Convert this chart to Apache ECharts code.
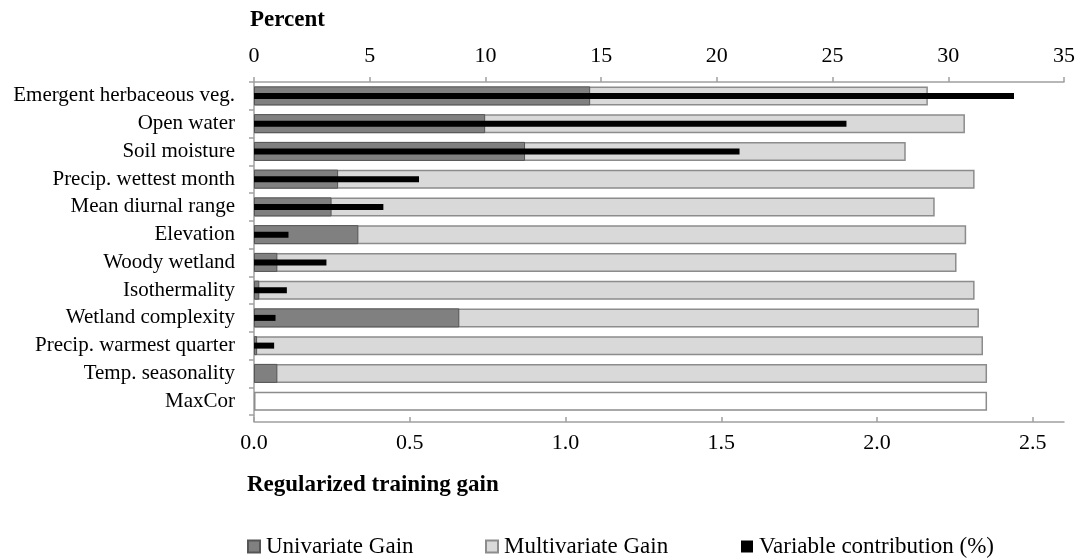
<!DOCTYPE html>
<html>
<head>
<meta charset="utf-8">
<script src="https://cdn.jsdelivr.net/npm/echarts@6/dist/echarts.min.js"></script>
<style>
  html, body { margin: 0; padding: 0; background: #fff; }
  #chart { width: 1080px; height: 558px; }
</style>
</head>
<body>
<div id="chart"></div>
<script>
const categories = [
  "Emergent herbaceous veg.", "Open water", "Soil moisture", "Precip. wettest month",
  "Mean diurnal range", "Elevation", "Woody wetland", "Isothermality",
  "Wetland complexity", "Precip. warmest quarter", "Temp. seasonality", "MaxCor"
];
const univariateGain = [1.079, 0.742, 0.870, 0.270, 0.249, 0.335, 0.075, 0.017, 0.659, 0.010, 0.075, null];
const multivariateGain = [2.163, 2.282, 2.092, 2.313, 2.185, 2.286, 2.255, 2.313, 2.327, 2.340, 2.353, 2.353];
const contributionPct = [32.84, 25.6, 20.98, 7.13, 5.59, 1.49, 3.13, 1.42, 0.93, 0.87, 0, null];
const gainTicks = [0, 0.5, 1.0, 1.5, 2.0, 2.5];
const percentTicks = [0, 5, 10, 15, 20, 25, 30, 35];

const FONT = "'Liberation Serif', 'Times New Roman', serif";
const AXIS_GRAY = '#a0a0a0';

const chart = echarts.init(document.getElementById('chart'), null, { renderer: 'canvas' });

const multiData = multivariateGain.map((v, i) =>
  categories[i] === 'MaxCor'
    ? { value: v, itemStyle: { color: '#ffffff', borderColor: '#8c8c8c' } }
    : v
);

const legendBase = {
  orient: 'horizontal', top: 535, padding: 0, itemWidth: 12, itemHeight: 12, itemGap: 0,
  icon: 'rect',
  textStyle: { fontFamily: FONT, fontSize: 23, color: '#000', padding: [0, 0, 0, 1] },
  selectedMode: false
};

chart.setOption({
  animation: false,
  backgroundColor: '#fff',
  textStyle: { fontFamily: FONT },
  title: [
    { text: 'Percent', left: 250, top: 9, padding: 0,
      textStyle: { fontFamily: FONT, fontSize: 23, fontWeight: 'bold', color: '#000' } },
    { text: 'Regularized training gain', left: 247, top: 474, padding: 0,
      textStyle: { fontFamily: FONT, fontSize: 23, fontWeight: 'bold', color: '#000' } }
  ],
  legend: [
    Object.assign({}, legendBase, { left: 247, data: ['Univariate Gain'] }),
    Object.assign({}, legendBase, { left: 485, data: ['Multivariate Gain'] }),
    Object.assign({}, legendBase, { left: 741, data: ['Variable contribution (%)'] })
  ],
  grid: { left: 254, right: 16, top: 82, bottom: 143, containLabel: false },
  xAxis: [
    {
      type: 'value', position: 'bottom', min: 0, max: 2.6, interval: 0.5, offset: 7,
      axisLine: { show: true, lineStyle: { color: AXIS_GRAY, width: 1.5 } },
      axisTick: { show: true, inside: true, length: 5, customValues: gainTicks,
        lineStyle: { color: AXIS_GRAY, width: 1.5 } },
      axisLabel: { customValues: gainTicks, formatter: v => Number(v).toFixed(1),
        fontFamily: FONT, fontSize: 22, color: '#000', margin: 10 },
      splitLine: { show: false }
    },
    {
      type: 'value', position: 'top', min: 0, max: 35, interval: 5,
      axisLine: { show: true, lineStyle: { color: AXIS_GRAY, width: 1.5 } },
      axisTick: { show: true, inside: false, length: 5, customValues: percentTicks,
        lineStyle: { color: AXIS_GRAY, width: 1.5 } },
      axisLabel: { customValues: percentTicks, fontFamily: FONT, fontSize: 22, color: '#000', margin: 15 },
      splitLine: { show: false }
    }
  ],
  yAxis: [
    {
      type: 'category', inverse: true, data: categories,
      axisLine: { show: true, lineStyle: { color: AXIS_GRAY, width: 1.5 } },
      axisTick: { show: true, inside: false, length: 5, alignWithLabel: false,
        lineStyle: { color: AXIS_GRAY, width: 1.5 } },
      axisLabel: { fontFamily: FONT, fontSize: 21, color: '#000', margin: 19 },
      splitLine: { show: false }
    },
    {
      type: 'category', inverse: true, data: categories, show: false
    }
  ],
  series: [
    {
      name: 'Multivariate Gain', type: 'bar', xAxisIndex: 0, yAxisIndex: 0,
      data: multiData, barWidth: 19, barGap: '-100%', z: 2,
      itemStyle: { color: '#d9d9d9', borderColor: '#8c8c8c', borderWidth: 1.5 }
    },
    {
      name: 'Univariate Gain', type: 'bar', xAxisIndex: 0, yAxisIndex: 0,
      data: univariateGain, barWidth: 19, barGap: '-100%', z: 3,
      itemStyle: { color: '#808080', borderColor: '#555555', borderWidth: 1 }
    },
    {
      name: 'Variable contribution (%)', type: 'bar', xAxisIndex: 1, yAxisIndex: 1,
      data: contributionPct, barWidth: 6, z: 4,
      itemStyle: { color: '#000000' }
    }
  ]
});

// extend the category axis line down to the offset gain axis
chart.setOption({
  graphic: [{
    type: 'line', silent: true, z: 1,
    shape: { x1: 254, y1: 558 - 143, x2: 254, y2: 558 - 143 + 7 },
    style: { stroke: AXIS_GRAY, lineWidth: 1.5 }
  }]
});
</script>
</body>
</html>
